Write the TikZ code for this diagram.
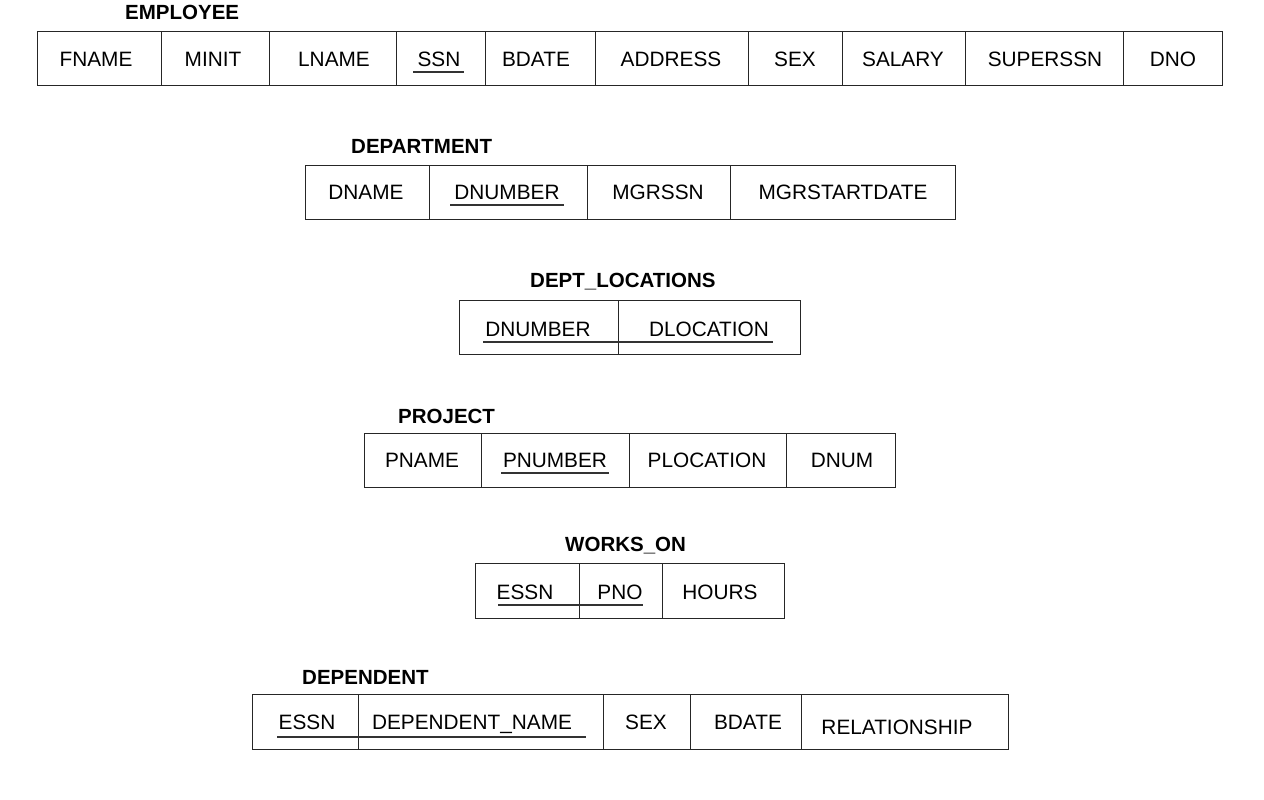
\documentclass[tikz,border=0pt]{standalone}
\usepackage{fontspec}
\setmainfont{Liberation Sans}
\tikzset{
  frame/.style={draw=black!85, line width=1.0pt},
  uline/.style={draw=black!80, line width=1.3pt},
  field/.style={inner sep=0pt, text height=15pt, text depth=0pt, anchor=center,
     font=\fontsize{20.8}{24}\selectfont},
  title/.style={inner sep=0pt, anchor=base west, font=\fontsize{20.5}{24}\selectfont\bfseries},
}
\begin{document}
\begin{tikzpicture}[x=1pt,y=-1pt]
\useasboundingbox (0,0) rectangle (1264,800);
\fill[white] (0,0) rectangle (1264,800);

% ---------- EMPLOYEE ----------
\node[title] (tEmp) at (125,19.5) {EMPLOYEE};
\draw[frame] (37,32) rectangle (1222,86);
\foreach \x in {161,269,396,485,595,748,842,965,1123}
  \draw[frame] (\x,32) -- (\x,86);
\node[field] (eFname) at (96,59) {FNAME};
\node[field] (eMinit) at (213,59) {MINIT};
\node[field] (eLname) at (334,59) {LNAME};
\node[field] (eSsn) at (439,59) {SSN};
\node[field] (eBdate) at (536,59) {BDATE};
\node[field] (eAddr) at (671,59) {ADDRESS};
\node[field] (eSex) at (795,59) {SEX};
\node[field] (eSal) at (903,59) {SALARY};
\node[field] (eSup) at (1045,59) {SUPERSSN};
\node[field] (eDno) at (1173,59) {DNO};
\draw[uline] (413,72) -- (464,72);

% ---------- DEPARTMENT ----------
\node[title] (tDept) at (351,153) {DEPARTMENT};
\draw[frame] (305,165) rectangle (955,219);
\foreach \x in {429,587,730}
  \draw[frame] (\x,165) -- (\x,219);
\node[field] (dName) at (366,192) {DNAME};
\node[field] (dNum) at (507,192) {DNUMBER};
\node[field] (dMgr) at (658,192) {MGRSSN};
\node[field] (dMgrD) at (843,192) {MGRSTARTDATE};
\draw[uline] (450,205) -- (564,205);

% ---------- DEPT_LOCATIONS ----------
\node[title] (tLoc) at (530,287) {DEPT\_LOCATIONS};
\draw[frame] (459,300) rectangle (800,354);
\draw[frame] (618,300) -- (618,354);
\node[field] (lNum) at (538,329) {DNUMBER};
\node[field] (lLoc) at (709,329) {DLOCATION};
\draw[uline] (483,342) -- (773,342);

% ---------- PROJECT ----------
\node[title] (tProj) at (398,423) {PROJECT};
\draw[frame] (364,433) rectangle (895,487);
\foreach \x in {481,629,786}
  \draw[frame] (\x,433) -- (\x,487);
\node[field] (pName) at (422,460) {PNAME};
\node[field] (pNum) at (555,460) {PNUMBER};
\node[field] (pLoc) at (707,460) {PLOCATION};
\node[field] (pDnum) at (842,460) {DNUM};
\draw[uline] (501,473) -- (609,473);

% ---------- WORKS_ON ----------
\node[title] (tWorks) at (565,551.5) {WORKS\_ON};
\draw[frame] (475,563) rectangle (784,618);
\foreach \x in {579,662}
  \draw[frame] (\x,563) -- (\x,618);
\node[field] (wEssn) at (525,592) {ESSN};
\node[field] (wPno) at (620,592) {PNO};
\node[field] (wHours) at (720,592) {HOURS};
\draw[uline] (498,605) -- (643,605);

% ---------- DEPENDENT ----------
\node[title] (tDep) at (302,684) {DEPENDENT};
\draw[frame] (252,694) rectangle (1008,749);
\foreach \x in {358,603,690,801}
  \draw[frame] (\x,694) -- (\x,749);
\node[field] (xEssn) at (307,722) {ESSN};
\node[field] (xName) at (472,722) {DEPENDENT\_NAME};
\node[field] (xSex) at (646,722) {SEX};
\node[field] (xBdate) at (748,722) {BDATE};
\node[field] (xRel) at (897,727) {RELATIONSHIP};
\draw[uline] (277,737) -- (586,737);
\end{tikzpicture}
\end{document}
